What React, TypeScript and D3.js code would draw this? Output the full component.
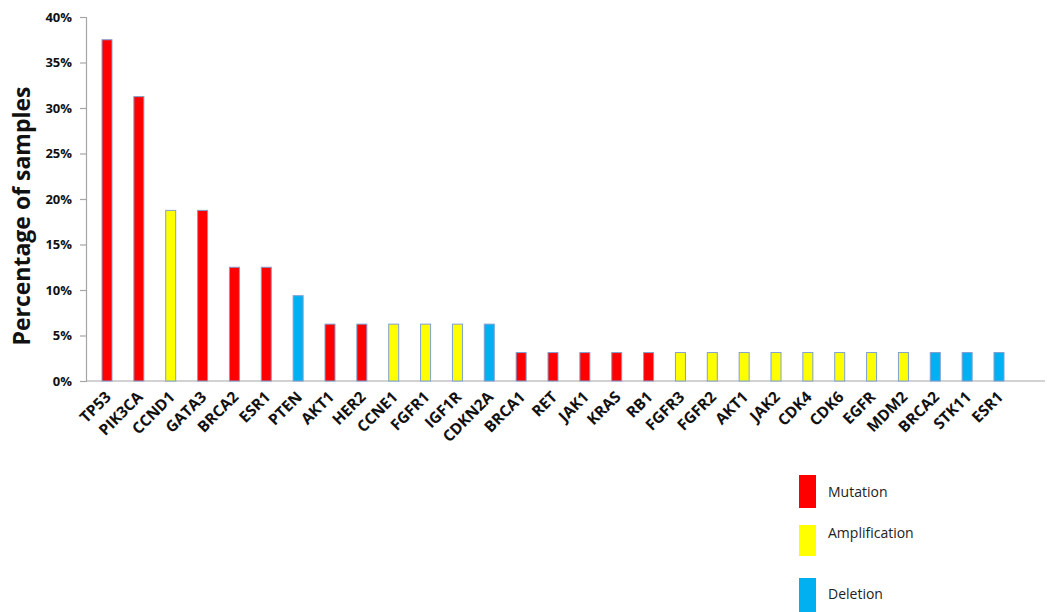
import { useEffect, useRef } from 'react';
import * as d3 from 'd3';

// genes in display order, with their alteration type and % of samples
const genes = [
  'TP53', 'PIK3CA', 'CCND1', 'GATA3', 'BRCA2', 'ESR1', 'PTEN', 'AKT1', 'HER2', 'CCNE1',
  'FGFR1', 'IGF1R', 'CDKN2A', 'BRCA1', 'RET', 'JAK1', 'KRAS', 'RB1', 'FGFR3', 'FGFR2',
  'AKT1', 'JAK2', 'CDK4', 'CDK6', 'EGFR', 'MDM2', 'BRCA2', 'STK11', 'ESR1',
];
const types = [
  'Mutation', 'Mutation', 'Amplification', 'Mutation', 'Mutation', 'Mutation', 'Deletion', 'Mutation', 'Mutation', 'Amplification',
  'Amplification', 'Amplification', 'Deletion', 'Mutation', 'Mutation', 'Mutation', 'Mutation', 'Mutation', 'Amplification', 'Amplification',
  'Amplification', 'Amplification', 'Amplification', 'Amplification', 'Amplification', 'Amplification', 'Deletion', 'Deletion', 'Deletion',
];
const percents = [
  37.5, 31.25, 18.75, 18.75, 12.5, 12.5, 9.375, 6.25, 6.25, 6.25,
  6.25, 6.25, 6.25, 3.125, 3.125, 3.125, 3.125, 3.125, 3.125, 3.125,
  3.125, 3.125, 3.125, 3.125, 3.125, 3.125, 3.125, 3.125, 3.125,
];
const yTicks = [0, 5, 10, 15, 20, 25, 30, 35, 40];
const legendTypes = ['Mutation', 'Amplification', 'Deletion'];
const legendColors = ['#ff0000', '#ffff00', '#00b0f0'];

export default function App() {
    const svgRef = useRef<SVGSVGElement>(null);

    useEffect(() => {
        if (!svgRef.current) return;
        const svg = d3.select(svgRef.current);
        svg.selectAll('*').remove();

        const width = 1063;
        const height = 612;
        const font = "'Open Sans', 'DejaVu Sans', sans-serif";

        const color = d3.scaleOrdinal<string, string>().domain(legendTypes).range(legendColors);

        const idx = genes.map((_, i) => i);
        const x = d3.scalePoint<number>().domain(idx).range([107, 999]);
        const y = d3.scaleLinear().domain([0, 40]).range([381, 17]);

        const barW = 10;

        // y axis
        const yAxis = svg.append('g')
            .attr('transform', 'translate(86,0)')
            .call(d3.axisLeft(y).tickValues(yTicks).tickSize(6).tickFormat(d => `${d}%`));
        yAxis.select('.domain').attr('stroke', '#a6a6a6').attr('stroke-width', 1.2);
        yAxis.selectAll('.tick line').attr('stroke', '#a6a6a6').attr('stroke-width', 1.2);
        yAxis.selectAll('.tick text')
            .attr('x', -14)
            .attr('font-family', font)
            .attr('font-weight', 'bold')
            .attr('font-size', 13)
            .attr('fill', '#111');

        // x axis line
        svg.append('line')
            .attr('x1', 86).attr('x2', 1045)
            .attr('y1', y(0)).attr('y2', y(0))
            .attr('stroke', '#a6a6a6').attr('stroke-width', 1.2);

        // bars
        svg.append('g')
            .selectAll('rect')
            .data(idx)
            .join('rect')
            .attr('x', i => (x(i) ?? 0) - barW / 2)
            .attr('y', i => y(percents[i]))
            .attr('width', barW)
            .attr('height', i => y(0) - y(percents[i]))
            .attr('fill', i => color(types[i]))
            .attr('stroke', '#7f9fd3')
            .attr('stroke-width', 1);

        // x labels
        svg.append('g')
            .selectAll('text')
            .data(idx)
            .join('text')
            .attr('transform', i => `translate(${(x(i) ?? 0) + 5},${y(0) + 17}) rotate(-45)`)
            .attr('text-anchor', 'end')
            .attr('font-family', font)
            .attr('font-weight', 'bold')
            .attr('font-size', 15.5)
            .attr('fill', '#111')
            .text(i => genes[i]);

        // y title
        svg.append('text')
            .attr('transform', 'translate(30,216) rotate(-90)')
            .attr('text-anchor', 'middle')
            .attr('font-family', font)
            .attr('font-weight', 'bold')
            .attr('font-size', 23)
            .attr('fill', '#111')
            .text('Percentage of samples');

        // legend
        const legendY = [475, 525, 578];
        const legendH = [33, 31, 34];
        const legendText = [497, 538, 599];
        const legend = svg.append('g')
            .selectAll('g')
            .data(legendTypes)
            .join('g');
        legend.append('rect')
            .attr('x', 799)
            .attr('y', (_, i) => legendY[i])
            .attr('width', 17)
            .attr('height', (_, i) => legendH[i])
            .attr('fill', d => color(d));
        legend.append('text')
            .attr('x', 828)
            .attr('y', (_, i) => legendText[i])
            .attr('font-family', font)
            .attr('font-size', 14)
            .attr('fill', '#222')
            .text(d => d);

        svg.attr('width', width).attr('height', height);
    }, []);

    return (
        <svg
            ref={svgRef}
            width={1063}
            height={612}
            style={{ position: 'absolute', left: 0, top: 0, background: '#fff' }}
        />
    );
}
